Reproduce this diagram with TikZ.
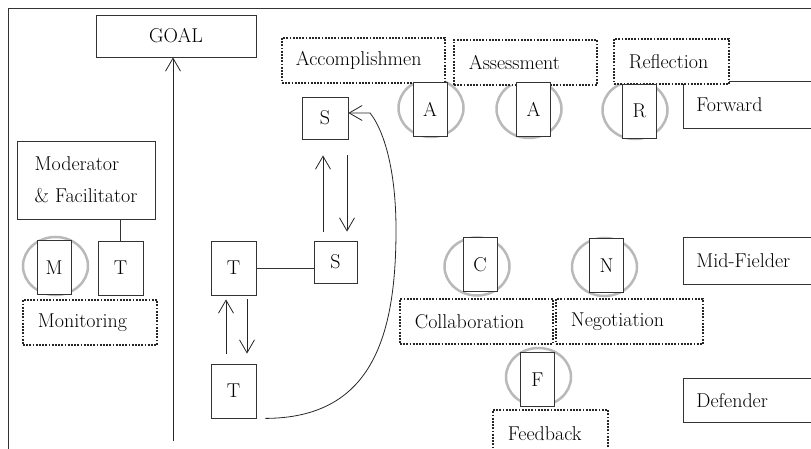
\documentclass[tikz,border=0pt]{standalone}
\usetikzlibrary{arrows.meta,positioning,shapes.geometric}
\begin{document}
\begin{tikzpicture}[
  x=1pt, y=-1pt,
  every node/.style={font=\fontsize{20}{24}\selectfont, text=black},
  box/.style={draw=black!80, line width=0.8pt, fill=white, inner sep=0pt},
  cell/.style={box, minimum width=34pt, minimum height=54pt},
  sq/.style={box, minimum width=45pt, minimum height=54pt},
  tag/.style={draw=black!85, fill=white, line width=1.8pt, dash pattern=on 1.8pt off 1.4pt,
    anchor=north west, align=left, inner xsep=15pt, inner ysep=0pt, minimum height=45pt},
  role/.style={box, anchor=north west, align=left, inner xsep=13pt, text width=140pt},
  ring/.style={ellipse, draw=gray!55, line width=2.5pt, minimum width=65pt, minimum height=58pt, inner sep=0pt},
  arrow/.style={line width=0.8pt, draw=black!85, -{Straight Barb[length=13pt,width=15pt]}}
]
\clip (0,0) rectangle (811,449);
\draw[line width=0.8pt, black!80] (8,470) -- (8,8) -- (830,8);

\node[box, minimum width=160pt, minimum height=42pt] (goal) at (176,36) {GOAL};
\node[box, minimum width=138pt, minimum height=78pt, align=left,
  font=\fontsize{20}{32}\selectfont] (mod) at (86,180) {Moderator\\\& Facilitator};

\node[role, minimum height=47pt] (fwd) at (683,81) {Forward};
\node[role, minimum height=47pt] (mid) at (683,237) {Mid-Fielder};
\node[role, minimum height=44pt] (def) at (683,378) {Defender};

\node[ring] (mr) at (55.5,266) {};
\node[ring] (a1r) at (431,108) {};
\node[ring] (a2r) at (529,109) {};
\node[ring] (rr) at (635,110) {};
\node[ring] (cr) at (477,266.5) {};
\node[ring] (nr) at (604.5,267) {};
\node[ring] (fr) at (538.5,377) {};

\node[tag, text width=135pt, inner xsep=14pt] (acc) at (281,37) {Accomplishmen};
\node[tag, text width=113pt] (ass) at (453,39) {Assessment};
\node[tag, text width=85pt] (ref) at (613,38) {Reflection};
\node[tag, text width=104pt] (mon) at (22,299) {Monitoring};
\node[tag, text width=123pt] (col) at (399,298) {Collaboration};
\node[tag, text width=117pt] (neg) at (555,298) {Negotiation};
\node[tag, text width=85pt, minimum height=47pt] (fb) at (492,409) {Feedback};

\node[cell] (m) at (54,267.5) {M};
\node[cell] (a1) at (430,109) {A};
\node[cell] (a2) at (533.5,109.5) {A};
\node[cell] (r) at (639.5,111) {R};
\node[cell] (c) at (480,264.5) {C};
\node[cell] (n) at (606.5,265.5) {N};
\node[cell] (f) at (537.5,379.5) {F};

\node[sq] (tl) at (120.5,268) {T};
\node[sq] (tm) at (233.5,268) {T};
\node[sq] (tb) at (233.5,391) {T};
\node[box, minimum width=46pt, minimum height=42pt] (st) at (325,118) {S};
\node[box, minimum width=43pt, minimum height=42pt] (sm) at (335.5,262) {S};

\coordinate (base) at (173,441);
\draw[arrow] (base) -- (base |- goal.south);
\draw[line width=0.8pt, black!80] (tl.north) -- (tl.north |- mod.south);
\draw[line width=0.8pt, black!80] (tm.east) -- (tm.east -| sm.west);
\draw[arrow] ([xshift=-7.5pt,yshift=10pt]tb.north) -- ([xshift=-7.5pt,yshift=-4pt]tm.south);
\draw[arrow] ([xshift=13.5pt,yshift=-4pt]tm.south) -- ([xshift=13.5pt,yshift=10pt]tb.north);
\draw[arrow] ([xshift=-12.5pt,yshift=9pt]sm.north) -- ([xshift=-2pt,yshift=-16pt]st.south);
\draw[arrow] ([xshift=22pt,yshift=-16pt]st.south) -- ([xshift=11.5pt,yshift=9pt]sm.north);
\draw[arrow] ([xshift=9pt]tb.south east) .. controls (370,418) and (396,340) .. (396,230)
  .. controls (396,160) and (380,125) .. (370,113) -- ([yshift=5pt]st.east);

\end{tikzpicture}
\end{document}
